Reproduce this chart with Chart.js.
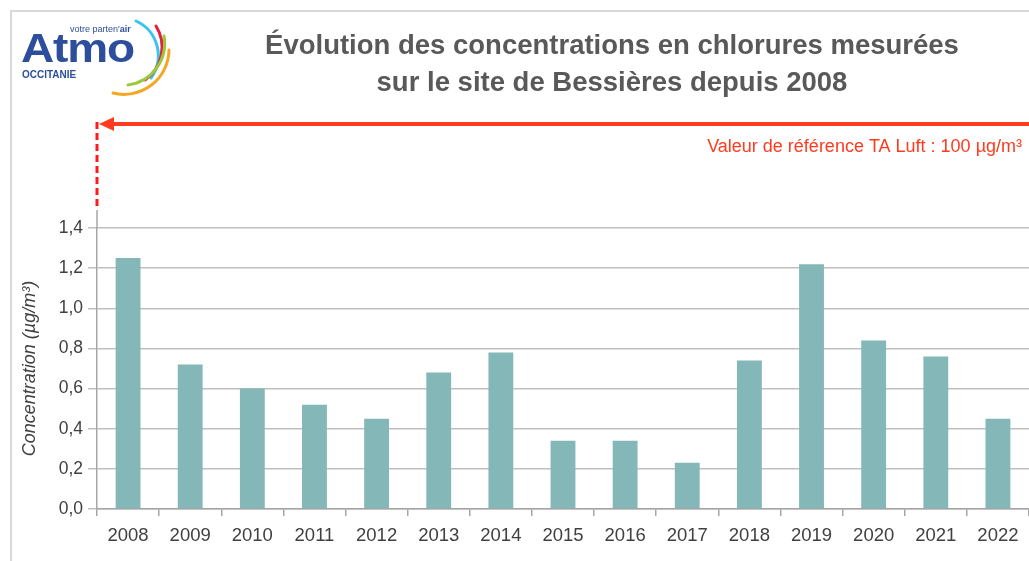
<!DOCTYPE html>
<html>
<head>
<meta charset="utf-8">
<script src="https://cdn.jsdelivr.net/npm/chart.js@4.4.0/dist/chart.umd.min.js"></script>
<style>
  html, body { margin: 0; padding: 0; background: #fff; overflow: hidden; }
  #wrap { position: relative; width: 1029px; height: 561px; }
  #chart { position: absolute; left: 0; top: 0; }
  .frame { position: absolute; left: 10px; top: 10px; width: 1030px; height: 560px;
           border-left: 2px solid #d9d9d9; border-top: 2px solid #d9d9d9; }
  #title { position: absolute; left: 200px; width: 824px; top: 26px; text-align: center;
           font: bold 27.5px 'Liberation Sans', Arial, sans-serif; color: #595959; line-height: 37px; }
  #logo { position: absolute; left: 18px; top: 18px; width: 160px; height: 80px; }
  .atmo { position: absolute; left: 3px; top: 8px; font: bold 40px 'Liberation Sans', Arial, sans-serif;
          color: #2d4e9c; transform: scale(1.15, 1); transform-origin: left top; letter-spacing: -1px; }
  .tag { position: absolute; left: 52px; top: 6px; font: 9px 'Liberation Sans', Arial, sans-serif; color: #2d4e9c; }
  .occ { position: absolute; left: 4px; top: 51px; font: bold 10px 'Liberation Sans', Arial, sans-serif; color: #2d4e9c; }
  #logo svg { position: absolute; left: 0; top: 0; }
</style>
</head>
<body>
<div id="wrap">
  <canvas id="chart" width="1029" height="561"></canvas>
  <div class="frame"></div>
  <div id="logo">
    <svg width="160" height="80" viewBox="0 0 160 80">
      <path d="M 118 3 A 38 38 0 0 1 133 60" fill="none" stroke="#3cc3ee" stroke-width="3" stroke-linecap="round"/>
      <path d="M 138 8 A 40 40 0 0 1 127 62" fill="none" stroke="#e3203f" stroke-width="3" stroke-linecap="round"/>
      <path d="M 146 18 A 42 42 0 0 1 110 67" fill="none" stroke="#9bc83c" stroke-width="3" stroke-linecap="round"/>
      <path d="M 151 32 A 45 45 0 0 1 95 75" fill="none" stroke="#f5a623" stroke-width="3" stroke-linecap="round"/>
    </svg>
    <span class="tag">votre parten'<b>air</b></span>
    <span class="atmo">Atmo</span>
    <span class="occ">OCCITANIE</span>
  </div>
  <div id="title">Évolution des concentrations en chlorures mesurées<br>sur le site de Bessières depuis 2008</div>
</div>
<script>
// Data
const years = ['2008', '2009', '2010', '2011', '2012', '2013', '2014', '2015', '2016', '2017', '2018', '2019', '2020', '2021', '2022'];
const chlorures = [1.25, 0.72, 0.60, 0.52, 0.45, 0.68, 0.78, 0.34, 0.34, 0.23, 0.74, 1.22, 0.84, 0.76, 0.45];
const refLabel = 'Valeur de référence TA Luft : 100 µg/m³';

const narrow = "'Liberation Sans Narrow', 'Arial Narrow', 'Liberation Sans', Arial, sans-serif";

// Reference value arrow (off-scale, drawn above the plot)
const refArrow = {
  id: 'refArrow',
  afterDraw(chart) {
    const ctx = chart.ctx;
    const area = chart.chartArea;
    const x0 = area.left;
    const yArrow = area.top - 104;
    ctx.save();
    // grey axis continuation
    ctx.strokeStyle = '#a6a6a6';
    ctx.lineWidth = 1.5;
    ctx.beginPath();
    ctx.moveTo(x0, area.top - 18);
    ctx.lineTo(x0, area.top);
    ctx.stroke();
    // dashed vertical
    ctx.strokeStyle = '#ff1a1a';
    ctx.lineWidth = 3;
    ctx.setLineDash([7, 4]);
    ctx.beginPath();
    ctx.moveTo(x0, yArrow - 2);
    ctx.lineTo(x0, area.top - 18);
    ctx.stroke();
    ctx.setLineDash([]);
    // horizontal line + arrowhead
    ctx.strokeStyle = '#ff3b1f';
    ctx.fillStyle = '#ff3b1f';
    ctx.lineWidth = 4;
    ctx.beginPath();
    ctx.moveTo(x0 + 12, yArrow);
    ctx.lineTo(chart.width, yArrow);
    ctx.stroke();
    ctx.beginPath();
    ctx.moveTo(x0 + 2, yArrow);
    ctx.lineTo(x0 + 17, yArrow - 7);
    ctx.lineTo(x0 + 17, yArrow + 7);
    ctx.closePath();
    ctx.fill();
    // label
    ctx.font = '18px ' + narrow;
    ctx.textAlign = 'right';
    ctx.textBaseline = 'middle';
    ctx.fillText(refLabel, 1022, yArrow + 23);
    ctx.restore();
  }
};

const ctx = document.getElementById('chart').getContext('2d');
new Chart(ctx, {
  type: 'bar',
  data: {
    labels: years,
    datasets: [{
      label: 'Chlorures',
      data: chlorures,
      backgroundColor: '#84b7b8',
      barPercentage: 0.4,
      categoryPercentage: 1.0
    }]
  },
  options: {
    responsive: false,
    animation: false,
    layout: { padding: { top: 228, left: 0, right: 0, bottom: 0 } },
    plugins: {
      legend: { display: false },
      tooltip: { enabled: false }
    },
    scales: {
      x: {
        offset: true,
        grid: { drawOnChartArea: false, offset: true, tickLength: 7, color: '#a6a6a6', lineWidth: 1.5 },
        border: { color: '#a6a6a6', width: 1.5 },
        ticks: { font: { family: narrow, size: 18.5 }, color: '#404040', padding: 9, maxRotation: 0, autoSkip: false },
        afterFit(scale) { scale.height = 52; }
      },
      y: {
        min: 0,
        max: 1.4,
        ticks: {
          stepSize: 0.2,
          font: { family: narrow, size: 17.5 },
          color: '#404040',
          padding: 5,
          callback: v => v.toFixed(1).replace('.', ',')
        },
        grid: { color: '#bfbfbf', lineWidth: 1.5, tickLength: 9 },
        border: { color: '#a6a6a6', width: 1.5 },
        title: {
          display: true,
          text: 'Concentration (µg/m³)',
          font: { family: narrow, size: 18, style: 'italic' },
          color: '#404040',
          padding: { top: 19, bottom: 0 }
        },
        afterFit(scale) { scale.width = 97; }
      }
    }
  },
  plugins: [refArrow]
});
</script>
</body>
</html>
